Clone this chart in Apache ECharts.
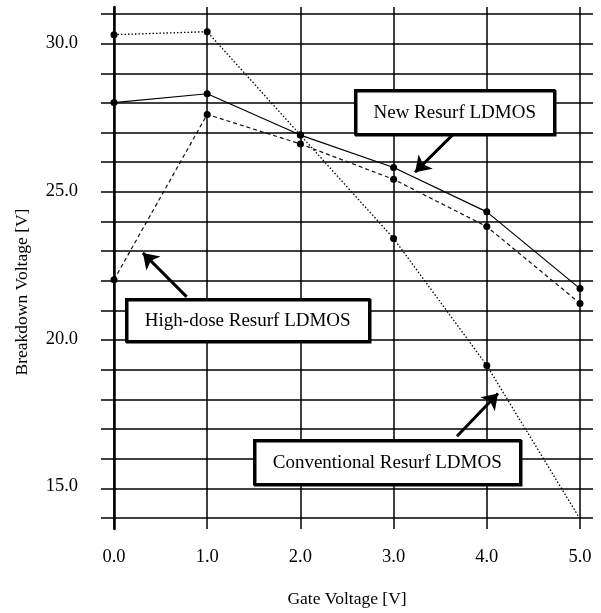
<!DOCTYPE html>
<html>
<head>
<meta charset="utf-8">
<script src="https://cdn.jsdelivr.net/npm/echarts@6/dist/echarts.min.js"></script>
<style>
  html, body { margin: 0; padding: 0; background: #fff; }
  #chart { width: 601px; height: 613px; }
</style>
</head>
<body>
<div id="chart"></div>
<script>
// gate voltage [V]
var gateVoltage = [0, 1, 2, 3, 4, 5];
// breakdown voltage [V]
var conventional = [30.3, 30.4, 26.9, 23.4, 19.1, 13.9];
var newResurf = [28.0, 28.3, 26.9, 25.8, 24.3, 21.7];
var highDose = [22.0, 27.6, 26.6, 25.4, 23.8, 21.2];

var font = 'Liberation Serif, Times New Roman, serif';

function pairs(ys) {
  return gateVoltage.map(function (x, i) { return [x, ys[i]]; });
}

function box(left, top, w, h, text) {
  return {
    type: 'group', left: left, top: top, z: 100,
    children: [
      {
        type: 'rect', z: 100, shape: { x: 0, y: 0, width: w, height: h },
        style: { fill: '#fff', stroke: '#000', lineWidth: 2.5,
                 shadowColor: '#000', shadowOffsetX: 1, shadowOffsetY: 1, shadowBlur: 0 }
      },
      {
        type: 'text', z: 101, x: w / 2, y: h / 2 + 1,
        style: { text: text, font: '19px ' + font, fill: '#000', align: 'center', verticalAlign: 'middle' }
      }
    ]
  };
}

var myChart = echarts.init(document.getElementById('chart'));

var option = {
  backgroundColor: '#fff',
  animation: false,
  grid: [
    // horizontal rulings, a bit wider than the data range
    { left: 101, right: 8, top: 14, bottom: 95 },
    // vertical rulings, a bit taller
    { left: 114, right: 21, top: 7, bottom: 84 },
    // data
    { left: 114, right: 21, top: 14, bottom: 95 }
  ],
  xAxis: [
    { gridIndex: 0, type: 'value', min: 0, max: 1, show: false },
    {
      gridIndex: 1, type: 'value', min: 0, max: 5, interval: 1,
      axisLine: { show: false }, axisTick: { show: false }, axisLabel: { show: false },
      splitLine: { show: true, lineStyle: { color: '#000', width: 1.5 } }
    },
    {
      gridIndex: 2, type: 'value', min: 0, max: 5, interval: 1,
      axisLine: { show: false }, axisTick: { show: false },
      splitLine: { show: false },
      axisLabel: {
        margin: 32, color: '#000', fontFamily: font, fontSize: 18.5,
        formatter: function (v) { return v.toFixed(1); }
      },
      name: 'Gate Voltage [V]', nameLocation: 'middle', nameGap: 74,
      nameTextStyle: { color: '#000', fontFamily: font, fontSize: 17.5 }
    }
  ],
  yAxis: [
    {
      gridIndex: 0, type: 'value', min: 14, max: 31, interval: 1,
      axisLine: { show: false }, axisTick: { show: false }, axisLabel: { show: false },
      splitLine: { show: true, lineStyle: { color: '#000', width: 1.5 } }
    },
    {
      gridIndex: 1, type: 'value', min: 0, max: 1,
      axisLine: { show: true, lineStyle: { color: '#000', width: 2.5 } },
      axisTick: { show: false }, axisLabel: { show: false }, splitLine: { show: false }
    },
    {
      gridIndex: 2, type: 'value', min: 14, max: 31, interval: 1,
      axisLine: { show: false }, axisTick: { show: false }, splitLine: { show: false },
      axisLabel: {
        margin: 36, color: '#000', fontFamily: font, fontSize: 18.5,
        formatter: function (v) { return v % 5 === 0 ? v.toFixed(1) : ''; }
      }
    }
  ],
  series: [
    {
      name: 'Conventional Resurf LDMOS', type: 'line', xAxisIndex: 2, yAxisIndex: 2,
      data: pairs(conventional),
      symbol: 'circle', symbolSize: 7, itemStyle: { color: '#000' },
      lineStyle: { color: '#000', width: 1.3, type: [1.5, 2] },
      z: 5,
      markLine: {
        silent: true, symbol: ['none', 'arrow'], symbolSize: 15,
        label: { show: false },
        lineStyle: { color: '#000', width: 3, type: 'solid' },
        data: [
          [{ coord: [3.68, 16.7] }, { coord: [4.12, 18.15] }],
          [{ coord: [3.66, 26.99] }, { coord: [3.23, 25.64] }],
          [{ coord: [0.78, 21.42] }, { coord: [0.31, 22.91] }]
        ]
      }
    },
    {
      name: 'New Resurf LDMOS', type: 'line', xAxisIndex: 2, yAxisIndex: 2,
      data: pairs(newResurf),
      symbol: 'circle', symbolSize: 7, itemStyle: { color: '#000' },
      lineStyle: { color: '#000', width: 1.2, type: 'solid' },
      z: 5
    },
    {
      name: 'High-dose Resurf LDMOS', type: 'line', xAxisIndex: 2, yAxisIndex: 2,
      data: pairs(highDose),
      symbol: 'circle', symbolSize: 7, itemStyle: { color: '#000' },
      lineStyle: { color: '#111', width: 1.2, type: [4, 3] },
      z: 5
    }
  ],
  graphic: [
    box(354, 89, 199, 44, 'New Resurf LDMOS'),
    box(125, 298, 243, 42, 'High-dose Resurf LDMOS'),
    box(253, 439, 266, 44, 'Conventional Resurf LDMOS'),
    {
      type: 'text', x: 22, y: 292, rotation: Math.PI / 2,
      style: { text: 'Breakdown Voltage [V]', font: '17.5px ' + font, fill: '#000',
               align: 'center', verticalAlign: 'middle' }
    }
  ]
};

myChart.setOption(option);
</script>
</body>
</html>
